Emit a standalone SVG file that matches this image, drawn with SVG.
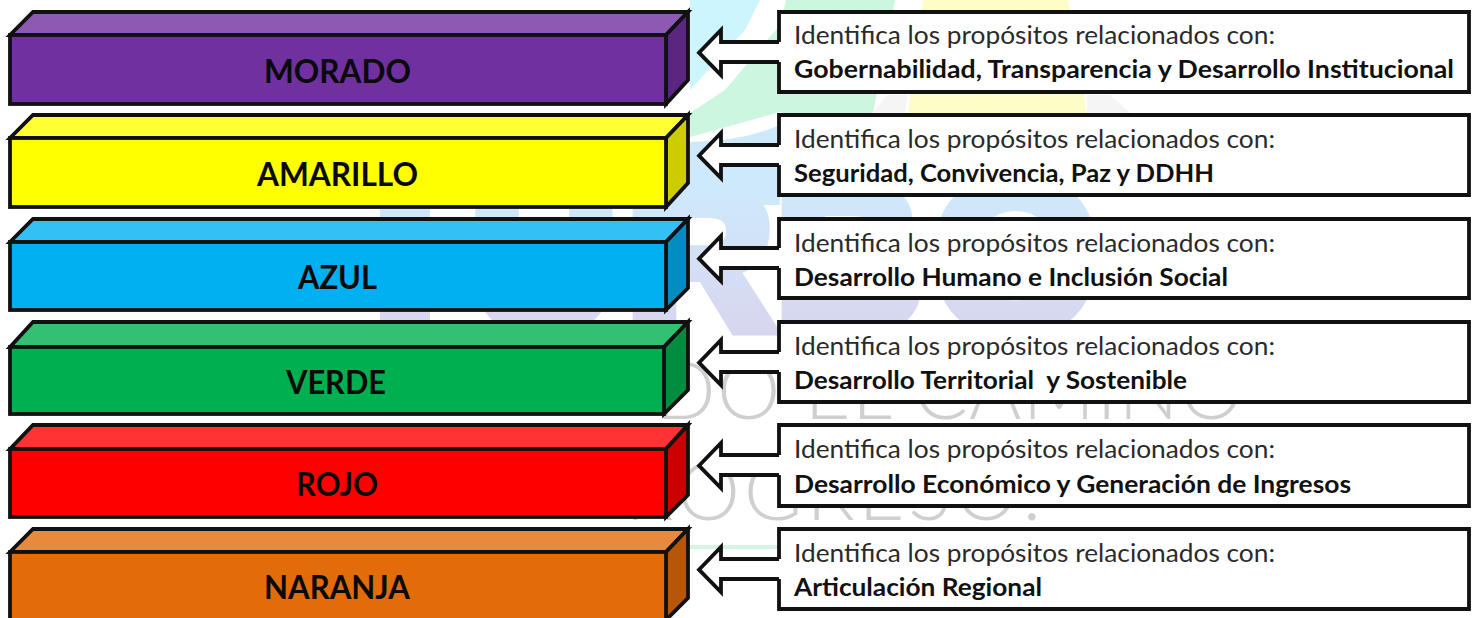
<svg xmlns="http://www.w3.org/2000/svg" width="1477" height="618" viewBox="0 0 1477 618">
<style>
.edge{stroke:#111;stroke-width:3.8;stroke-linejoin:miter}
.box{fill:#fff;stroke:#111;stroke-width:3.8}
.label{font-family:"Lato","Liberation Sans",sans-serif;font-weight:700;font-size:33px;fill:#0a0a0a}
.intro{font-family:"Lato","Liberation Sans",sans-serif;font-weight:400;font-size:25px;fill:#2a2a2a}
.topic{font-family:"Lato","Liberation Sans",sans-serif;font-weight:700;font-size:25px;fill:#111;white-space:pre}
.wm{font-family:"Lato","Open Sans",sans-serif;font-weight:300;font-size:80px;fill:#cfcfcf}
.big{font-family:"Liberation Sans",sans-serif;font-weight:700;font-size:205px;fill:url(#wmGrad);stroke:url(#wmGrad);stroke-width:14}
</style>
<defs>
<linearGradient id="wmGrad" gradientUnits="userSpaceOnUse" x1="0" y1="190" x2="0" y2="330">
<stop offset="0" stop-color="#cfe9fc"/><stop offset="1" stop-color="#d8d6ef"/>
</linearGradient>
</defs>
<rect width="1477" height="618" fill="#fff"/>
<g id="background">
<path d="M690 0H760L745 30 690 90Z" fill="#cdf5fd"/>
<path d="M786 0H895L873 113 800 118 780 112 690 137V113L725 90 780 25Z" fill="#ccf6e0"/>
<path d="M923 0H1068L1087 113H908Z" fill="#fefdc8"/>
<path d="M873 113 887 95H908L905 113ZM1087 95H1110L1130 113H1087Z" fill="#f5f5f5"/>
<path d="M690 142Q740 142 780 125V205H690Z" fill="#cfe9fc"/>
<rect x="380" y="190" width="50" height="140" fill="url(#wmGrad)"/>
<g class="big">
<text x="470" y="328">U</text>
<text x="626" y="328">R</text>
<text x="775" y="328">B</text>
<text x="932" y="330" style="font-size:215px">O</text>
</g>
<text class="wm" x="655" y="419" textLength="588">DO EL CAMINO</text>
<text class="wm" x="625" y="520" textLength="417">ROGRESO!</text>
<rect x="690" y="545" width="90" height="4" fill="#d5f5e4"/>
</g>
<g id="connectors">
<g id="arrow-1"><path class="box" style="stroke:none" d="M699 52.7 721 30V42H782V62H721V75Z"/><path class="edge" fill="none" d="M781 42H721V30L699 52.7 721 75V62H781"/></g>
<g id="arrow-2"><path class="box" style="stroke:none" d="M699 155.7 721 133V145H782V165H721V178Z"/><path class="edge" fill="none" d="M781 145H721V133L699 155.7 721 178V165H781"/></g>
<g id="arrow-3"><path class="box" style="stroke:none" d="M699 258.7 721 236V248H782V268H721V281Z"/><path class="edge" fill="none" d="M781 248H721V236L699 258.7 721 281V268H781"/></g>
<g id="arrow-4"><path class="box" style="stroke:none" d="M699 362.7 721 340V352H782V372H721V385Z"/><path class="edge" fill="none" d="M781 352H721V340L699 362.7 721 385V372H781"/></g>
<g id="arrow-5"><path class="box" style="stroke:none" d="M699 465.7 721 443V455H782V475H721V488Z"/><path class="edge" fill="none" d="M781 455H721V443L699 465.7 721 488V475H781"/></g>
<g id="arrow-6"><path class="box" style="stroke:none" d="M699 569.7 721 547V559H782V579H721V592Z"/><path class="edge" fill="none" d="M781 559H721V547L699 569.7 721 592V579H781"/></g>
</g>
<g id="morado">
<path class="edge" fill="#8D59B3" d="M10 35 33 12H688L666 35Z"/>
<path class="edge" fill="#5A2680" d="M666 35 688 12V80L666 104Z"/>
<rect class="edge" fill="#7030A0" x="10" y="35" width="656" height="69"/>
<text class="label" x="264" y="83" textLength="147" lengthAdjust="spacingAndGlyphs">MORADO</text>
</g>
<g id="amarillo">
<path class="edge" fill="#FFFF33" d="M10 138 33 115H688L666 138Z"/>
<path class="edge" fill="#CCCC00" d="M666 138 688 115V183L666 207Z"/>
<rect class="edge" fill="#FFFF00" x="10" y="138" width="656" height="69"/>
<text class="label" x="257" y="186" textLength="161" lengthAdjust="spacingAndGlyphs">AMARILLO</text>
</g>
<g id="azul">
<path class="edge" fill="#33C0F3" d="M10 242 33 219H688L666 242Z"/>
<path class="edge" fill="#008DC0" d="M666 242 688 219V288L666 310Z"/>
<rect class="edge" fill="#00B0F0" x="10" y="242" width="656" height="68"/>
<text class="label" x="298" y="289" textLength="79" lengthAdjust="spacingAndGlyphs">AZUL</text>
</g>
<g id="verde">
<path class="edge" fill="#33C073" d="M10 347 33 322H688L664 347Z"/>
<path class="edge" fill="#008D40" d="M664 347 688 322V390L664 414Z"/>
<rect class="edge" fill="#00B050" x="10" y="347" width="654" height="67"/>
<text class="label" x="286" y="394" textLength="100" lengthAdjust="spacingAndGlyphs">VERDE</text>
</g>
<g id="rojo">
<path class="edge" fill="#FF3333" d="M10 449 33 425H688L666 449Z"/>
<path class="edge" fill="#CC0000" d="M666 449 688 425V495L666 517Z"/>
<rect class="edge" fill="#FF0000" x="10" y="449" width="656" height="68"/>
<text class="label" x="296" y="496" textLength="82" lengthAdjust="spacingAndGlyphs">ROJO</text>
</g>
<g id="naranja">
<path class="edge" fill="#E8893B" d="M10 552 33 529H688L666 552Z"/>
<path class="edge" fill="#B65608" d="M666 552 688 529V598L666 620Z"/>
<rect class="edge" fill="#E36C0A" x="10" y="552" width="656" height="72"/>
<text class="label" x="264" y="599" textLength="146" lengthAdjust="spacingAndGlyphs">NARANJA</text>
</g>
<g id="box-1">
<path class="box" d="M779 42V12H1469V92H779V62"/>
<text class="intro" x="794" y="44" textLength="481" lengthAdjust="spacingAndGlyphs">Identifica los propósitos relacionados con:</text>
<text class="topic" x="794" y="77.500" textLength="660" lengthAdjust="spacingAndGlyphs">Gobernabilidad, Transparencia y Desarrollo Institucional</text>
</g>
<g id="box-2">
<path class="box" d="M779 145V115H1469V195H779V165"/>
<text class="intro" x="794" y="148" textLength="481" lengthAdjust="spacingAndGlyphs">Identifica los propósitos relacionados con:</text>
<text class="topic" x="794" y="182" textLength="420" lengthAdjust="spacingAndGlyphs">Seguridad, Convivencia, Paz y DDHH</text>
</g>
<g id="box-3">
<path class="box" d="M779 248V219H1469V298H779V268"/>
<text class="intro" x="794" y="252" textLength="481" lengthAdjust="spacingAndGlyphs">Identifica los propósitos relacionados con:</text>
<text class="topic" x="794" y="286" textLength="434" lengthAdjust="spacingAndGlyphs">Desarrollo Humano e Inclusión Social</text>
</g>
<g id="box-4">
<path class="box" d="M779 352V322H1469V402H779V372"/>
<text class="intro" x="794" y="355" textLength="481" lengthAdjust="spacingAndGlyphs">Identifica los propósitos relacionados con:</text>
<text class="topic" x="794" y="389" textLength="393" lengthAdjust="spacingAndGlyphs">Desarrollo Territorial  y Sostenible</text>
</g>
<g id="box-5">
<path class="box" d="M779 455V425H1469V506H779V475"/>
<text class="intro" x="794" y="458" textLength="481" lengthAdjust="spacingAndGlyphs">Identifica los propósitos relacionados con:</text>
<text class="topic" x="794" y="493" textLength="557" lengthAdjust="spacingAndGlyphs">Desarrollo Económico y Generación de Ingresos</text>
</g>
<g id="box-6">
<path class="box" d="M779 559V529H1469V609H779V579"/>
<text class="intro" x="794" y="562" textLength="481" lengthAdjust="spacingAndGlyphs">Identifica los propósitos relacionados con:</text>
<text class="topic" x="794" y="596" textLength="248" lengthAdjust="spacingAndGlyphs">Articulación Regional</text>
</g>
</svg>
